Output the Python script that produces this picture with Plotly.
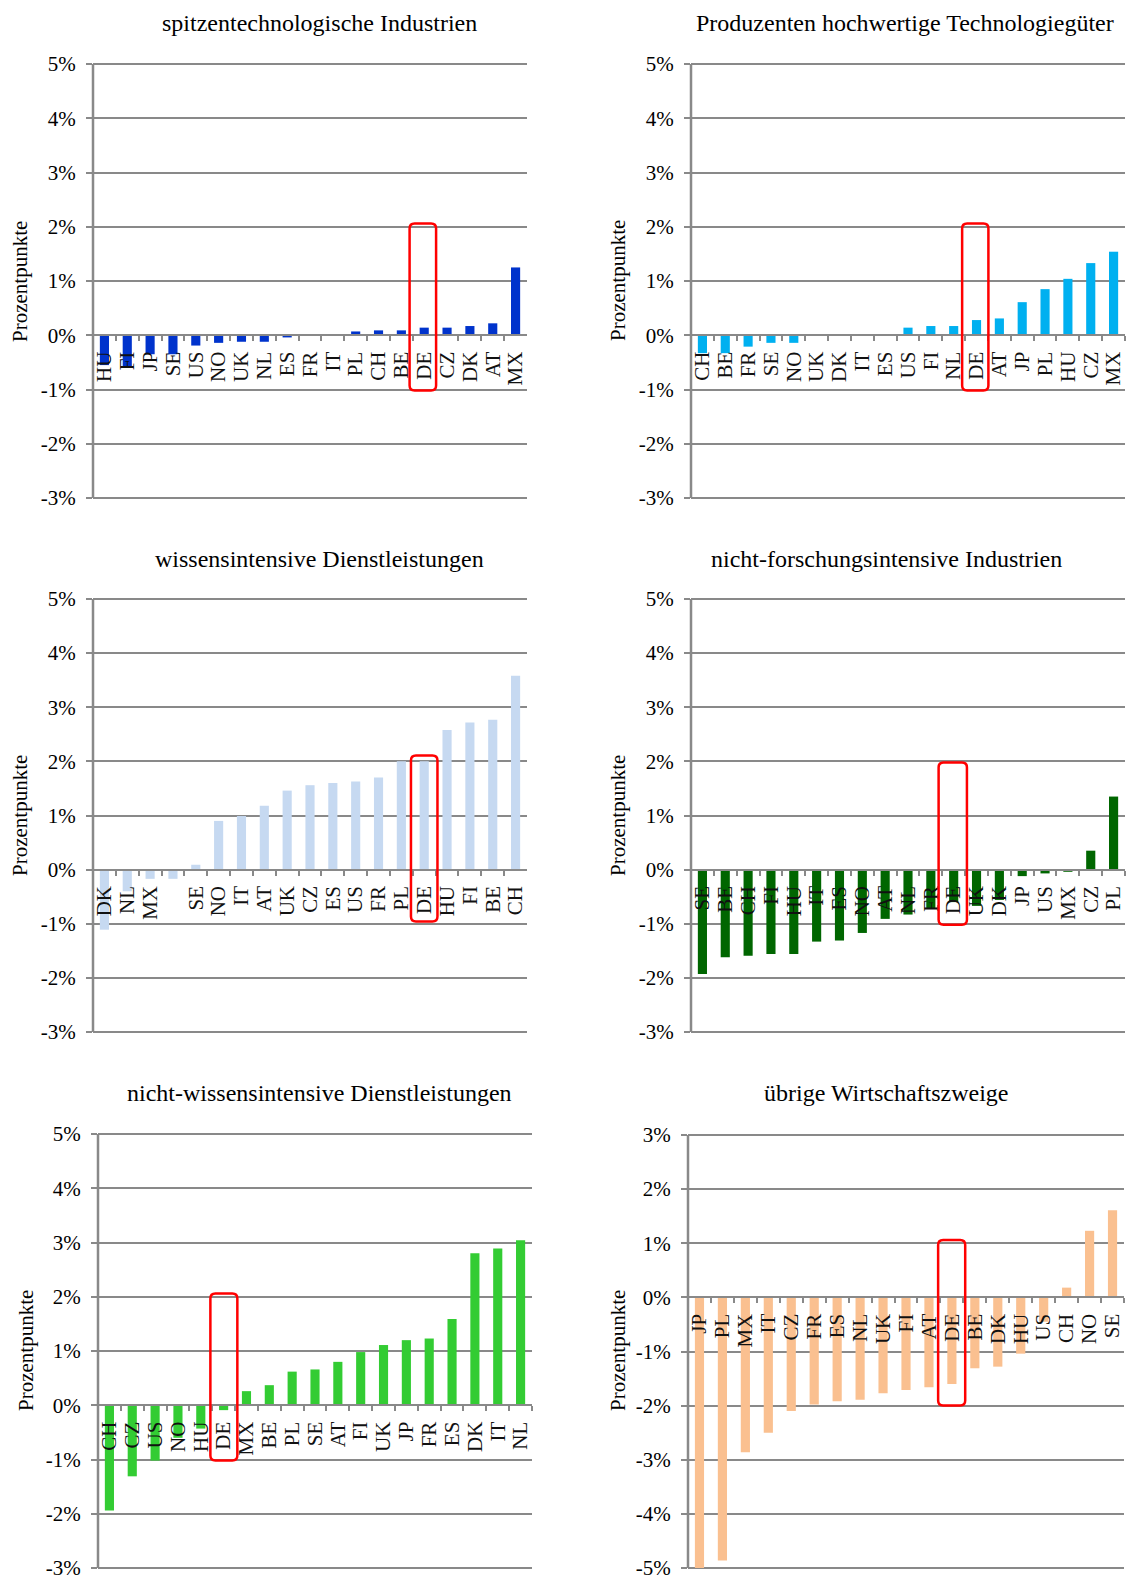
import plotly.graph_objects as go

# ---------------- data ----------------
title_1 = "spitzentechnologische Industrien"
cats_1 = ["HU", "FI", "JP", "SE", "US", "NO", "UK", "NL", "ES", "FR", "IT", "PL", "CH", "BE", "DE", "CZ", "DK", "AT", "MX"]
vals_1 = [-0.55, -0.6, -0.35, -0.35, -0.19, -0.14, -0.12, -0.12, -0.04, 0.0, 0.0, 0.07, 0.09, 0.09, 0.14, 0.14, 0.17, 0.22, 1.25]

title_2 = "Produzenten hochwertige Technologiegüter"
cats_2 = ["CH", "BE", "FR", "SE", "NO", "UK", "DK", "IT", "ES", "US", "FI", "NL", "DE", "AT", "JP", "PL", "HU", "CZ", "MX"]
vals_2 = [-0.33, -0.33, -0.21, -0.14, -0.14, 0.0, 0.0, 0.0, 0.0, 0.14, 0.17, 0.17, 0.28, 0.31, 0.61, 0.85, 1.04, 1.33, 1.54]

title_3 = "wissensintensive Dienstleistungen"
cats_3 = ["DK", "NL", "MX", "\u00a0", "SE", "NO", "IT", "AT", "UK", "CZ", "ES", "US", "FR", "PL", "DE", "HU", "FI", "BE", "CH"]
vals_3 = [-1.11, -0.4, -0.17, -0.17, 0.09, 0.9, 0.99, 1.18, 1.46, 1.56, 1.6, 1.63, 1.7, 2.0, 2.0, 2.58, 2.72, 2.77, 3.58]

title_4 = "nicht-forschungsintensive Industrien"
cats_4 = ["SE", "BE", "CH", "FI", "HU", "IT", "ES", "NO", "AT", "NL", "FR", "DE", "UK", "DK", "JP", "US", "MX", "CZ", "PL"]
vals_4 = [-1.93, -1.62, -1.59, -1.56, -1.56, -1.33, -1.31, -1.17, -0.91, -0.83, -0.72, -0.6, -0.67, -0.56, -0.12, -0.07, -0.04, 0.35, 1.35]

title_5 = "nicht-wissensintensive Dienstleistungen"
cats_5 = ["CH", "CZ", "US", "NO", "HU", "DE", "MX", "BE", "PL", "SE", "AT", "FI", "UK", "JP", "FR", "ES", "DK", "IT", "NL"]
vals_5 = [-1.94, -1.31, -1.02, -0.6, -0.43, -0.09, 0.26, 0.37, 0.62, 0.66, 0.8, 0.98, 1.11, 1.2, 1.23, 1.59, 2.8, 2.89, 3.04]

title_6 = "übrige Wirtschaftszweige"
cats_6 = ["JP", "PL", "MX", "IT", "CZ", "FR", "ES", "NL", "UK", "FI", "AT", "DE", "BE", "DK", "HU", "US", "CH", "NO", "SE"]
vals_6 = [-5.0, -4.86, -2.86, -2.5, -2.1, -1.98, -1.92, -1.89, -1.77, -1.71, -1.66, -1.6, -1.31, -1.28, -1.04, -0.45, 0.18, 1.23, 1.61]

ticks_a = [5, 4, 3, 2, 1, 0, -1, -2, -3]
ticklabels_a = ["5%", "4%", "3%", "2%", "1%", "0%", "-1%", "-2%", "-3%"]
ticks_b = [3, 2, 1, 0, -1, -2, -3, -4, -5]
ticklabels_b = ["3%", "2%", "1%", "0%", "-1%", "-2%", "-3%", "-4%", "-5%"]

y_title = "Prozentpunkte"
highlight = "DE"

# ---------------- styles / layout ----------------
W, H = 1126, 1579
FONT = "Liberation Serif, Times New Roman, serif"
GRID = "#898989"
PAD_PX = 2  # extra room so the outermost grid lines are drawn

panels = [
    dict(title=title_1, cats=cats_1, vals=vals_1, color="#0033CC", ticks=ticks_a, labels=ticklabels_a,
         box=(93, 527, 64, 498), tpos=(319, 23), ypos=(20, 282), hb=(-0.64, 0.52, -1.02, 2.06)),
    dict(title=title_2, cats=cats_2, vals=vals_2, color="#00B0F0", ticks=ticks_a, labels=ticklabels_a,
         box=(691, 1125, 64, 498), tpos=(905, 23), ypos=(618, 281), hb=(-0.63, 0.52, -1.02, 2.06)),
    dict(title=title_3, cats=cats_3, vals=vals_3, color="#C6D9F1", ticks=ticks_a, labels=ticklabels_a,
         box=(93, 527, 599, 1032), tpos=(319, 559), ypos=(20, 816), hb=(-0.58, 0.58, -0.96, 2.11)),
    dict(title=title_4, cats=cats_4, vals=vals_4, color="#006600", ticks=ticks_a, labels=ticklabels_a,
         box=(691, 1125, 599, 1032), tpos=(886, 559), ypos=(618, 816), hb=(-0.66, 0.58, -1.02, 1.98)),
    dict(title=title_5, cats=cats_5, vals=vals_5, color="#33CC33", ticks=ticks_a, labels=ticklabels_a,
         box=(98, 532, 1134, 1568), tpos=(319, 1093), ypos=(26, 1351), hb=(-0.58, 0.6, -1.02, 2.06)),
    dict(title=title_6, cats=cats_6, vals=vals_6, color="#FAC090", ticks=ticks_b, labels=ticklabels_b,
         box=(688, 1124, 1135, 1568), tpos=(886, 1093), ypos=(618, 1351), hb=(-0.6, 0.58, -2.0, 1.06)),
]

fig = go.Figure()
annotations = []
shapes = []
layout = dict(
    width=W, height=H, autosize=False,
    margin=dict(l=0, r=0, t=0, b=0, pad=0, autoexpand=False),
    paper_bgcolor="white", plot_bgcolor="white", showlegend=False,
    font=dict(family=FONT, size=21, color="#000000"),
)

for i, p in enumerate(panels, start=1):
    xa = "x" if i == 1 else f"x{i}"
    ya = "y" if i == 1 else f"y{i}"
    x0p, x1p, y0p, y1p = p["box"]
    ymax, ymin = max(p["ticks"]), min(p["ticks"])
    n = len(p["cats"])
    upp = (ymax - ymin) / (y1p - y0p)          # data units per pixel
    eps = PAD_PX * upp
    r_lo, r_hi = ymin - eps, ymax + eps
    dom_x = [x0p / W, x1p / W]
    dom_y = [1 - (y1p + PAD_PX) / H, 1 - (y0p - PAD_PX) / H]
    zero_frac = dom_y[0] + (0 - r_lo) / (r_hi - r_lo) * (dom_y[1] - dom_y[0])

    fig.add_trace(go.Bar(x=p["cats"], y=p["vals"], marker=dict(color=p["color"], line=dict(width=0)),
                         width=0.4, xaxis=xa, yaxis=ya, hoverinfo="x+y"))

    layout[f"xaxis{'' if i == 1 else i}"] = dict(
        domain=dom_x, anchor="free", position=zero_frac, type="category",
        range=[-0.5, n - 0.5], showgrid=False, zeroline=False, automargin=False,
        showline=True, linecolor=GRID, linewidth=2,
        tickmode="array", tickvals=p["cats"], ticktext=p["cats"],
        ticks="outside", tickson="boundaries", ticklen=5, tickwidth=2, tickcolor=GRID,
        tickangle=-90, tickfont=dict(family=FONT, size=21, color="#111111"),
        ticklabelstandoff=7, ticklabeloverflow="allow", layer="above traces", fixedrange=True,
    )
    layout[f"yaxis{'' if i == 1 else i}"] = dict(
        domain=dom_y, anchor=xa, range=[r_lo, r_hi], automargin=False,
        tickmode="array", tickvals=p["ticks"], ticktext=p["labels"],
        showgrid=True, gridcolor=GRID, gridwidth=2, zeroline=False,
        showline=False,
        ticks="outside", ticklen=6, tickwidth=2, tickcolor=GRID,
        tickfont=dict(family=FONT, size=21, color="#000000"),
        ticklabelstandoff=6, ticklabeloverflow="allow", fixedrange=True,
    )

    # vertical value-axis line exactly from lowest to highest tick
    shapes.append(dict(type="line", xref="paper", yref=ya, x0=dom_x[0], x1=dom_x[0], y0=ymin, y1=ymax,
                       line=dict(color=GRID, width=2.5), layer="above"))

    annotations.append(dict(text=p["title"], xref="paper", yref="paper", x=p["tpos"][0] / W, y=1 - p["tpos"][1] / H,
                            xanchor="center", yanchor="middle", showarrow=False,
                            font=dict(family=FONT, size=24, color="#000000")))
    annotations.append(dict(text=y_title, xref="paper", yref="paper", x=p["ypos"][0] / W, y=1 - p["ypos"][1] / H,
                            xanchor="center", yanchor="middle", showarrow=False, textangle=-90,
                            font=dict(family=FONT, size=21, color="#000000")))

    # rounded red frame around DE
    k = p["cats"].index(highlight)
    l, r, b, t = p["hb"]
    bx0, bx1 = k + l, k + r
    rad_px = 5
    rx = rad_px / ((x1p - x0p) / n)
    ry = rad_px * upp
    path = (f"M {bx0 + rx},{b} L {bx1 - rx},{b} Q {bx1},{b} {bx1},{b + ry} "
            f"L {bx1},{t - ry} Q {bx1},{t} {bx1 - rx},{t} L {bx0 + rx},{t} "
            f"Q {bx0},{t} {bx0},{t - ry} L {bx0},{b + ry} Q {bx0},{b} {bx0 + rx},{b} Z")
    shapes.append(dict(type="path", xref=xa, yref=ya, path=path,
                       line=dict(color="#FF0000", width=2.5), fillcolor="rgba(0,0,0,0)", layer="above"))

layout["annotations"] = annotations
layout["shapes"] = shapes
fig.update_layout(**layout)
fig.write_html("out.html", config={"displayModeBar": False, "responsive": False},
               post_script="document.body.style.margin='0';document.body.style.padding='0';"
                           "document.documentElement.style.overflow='hidden';")
